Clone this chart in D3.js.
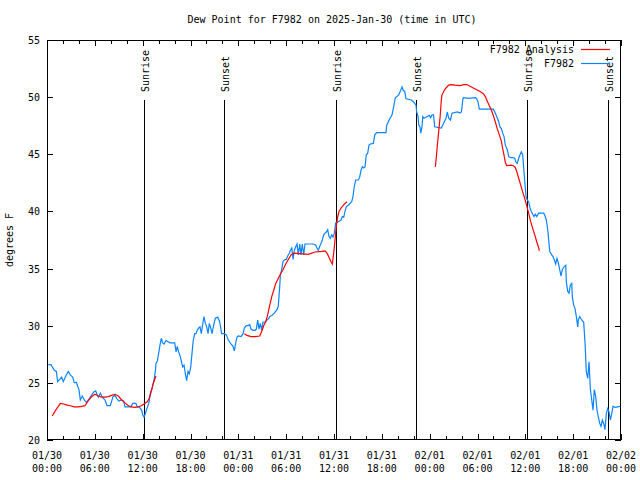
<!DOCTYPE html>
<html><head><meta charset="utf-8">
<script src="https://cdn.jsdelivr.net/npm/d3@7"></script>
<style>
body{margin:0;background:#fff;}
text{font-family:"DejaVu Sans Mono",monospace;font-size:10px;fill:#000;}
</style></head>
<body><svg id="c" width="640" height="480"></svg>
<script>
const startUtc = Date.UTC(2025,0,30,0,0);
const endUtc = Date.UTC(2025,1,2,0,0);
const titleText = "Dew Point for F7982 on 2025-Jan-30 (time in UTC)";
const yLabel = "degrees F";
const yTicks = [20,25,30,35,40,45,50,55];
const seriesNames = ["F7982 Analysis","F7982"];

// observations: hours since start, value (deg F)
const obsHours = [0.16,0.50,0.66,0.92,1.17,1.34,1.59,1.84,2.04,2.35,2.67,2.92,3.22,3.42,3.68,3.85,4.01,4.18,4.43,4.68,4.93,5.18,5.52,5.86,6.11,6.27,6.44,6.69,6.94,7.28,7.53,7.94,8.28,8.53,8.78,9.03,9.37,9.62,9.78,10.20,10.54,10.75,11.16,11.33,11.58,11.88,12.00,12.17,12.33,12.51,12.76,12.92,13.17,13.42,13.59,13.67,13.84,14.01,14.17,14.34,14.51,14.68,14.93,15.18,15.43,16.02,16.19,16.34,16.52,16.68,16.85,17.02,17.19,17.35,17.52,17.69,17.85,18.03,18.19,18.35,18.53,18.69,18.85,19.03,19.19,19.36,19.53,19.69,19.86,20.03,20.20,20.36,20.53,20.70,20.86,21.11,21.41,21.66,21.91,22.24,22.49,22.74,23.08,23.33,23.50,23.67,23.83,24.00,24.34,24.59,24.75,25.00,25.25,25.43,25.59,25.84,26.09,26.25,26.43,26.59,26.76,26.93,27.09,27.43,27.60,27.76,27.94,28.19,28.51,28.85,29.01,29.10,29.19,29.27,29.44,29.60,29.77,30.02,30.19,30.36,30.52,30.70,30.86,31.02,31.20,31.36,31.52,31.70,31.86,32.02,32.20,32.36,33.40,33.71,33.87,34.03,34.21,34.37,34.53,34.71,34.87,35.04,35.21,35.37,35.54,35.71,35.88,36.04,36.21,36.54,36.88,37.04,37.22,37.38,37.54,37.88,38.22,38.38,38.55,38.72,39.05,39.22,39.39,39.55,39.73,39.89,40.05,40.23,40.39,40.56,40.93,41.11,41.36,42.52,42.61,43.03,43.28,43.44,43.69,44.12,44.37,44.53,44.69,44.87,45.03,45.70,45.95,46.12,46.29,46.37,46.54,46.63,46.79,46.88,47.04,47.13,47.29,47.70,47.96,48.13,48.29,48.48,48.63,49.46,50.05,50.21,50.39,50.61,50.80,51.47,51.81,51.97,52.06,52.15,52.22,52.90,53.73,53.90,54.06,54.23,55.98,56.16,56.32,56.49,56.66,56.82,56.99,57.16,57.33,57.49,57.74,57.92,58.17,58.42,58.67,58.83,58.99,59.17,59.33,59.50,59.67,59.83,60.00,60.09,60.25,60.42,60.59,60.75,60.93,61.09,61.25,61.43,61.68,62.31,62.47,62.63,62.81,62.97,63.06,63.31,63.47,63.64,63.81,63.97,64.14,64.31,64.48,64.64,64.89,65.07,65.14,65.32,65.48,65.64,65.82,65.89,66.07,66.23,66.40,66.57,66.65,66.82,67.07,67.32,67.49,67.65,67.83,67.99,68.08,68.15,68.33,68.49,68.65,68.83,68.99,69.15,69.33,69.49,69.66,69.83,69.99,70.16,70.33,70.50,70.66,70.84,71.00,71.25,71.59,71.91];
const obsValues = [26.6,26.6,26.4,26.1,26.0,25.1,25.3,25.5,25.1,25.6,26.0,25.7,25.5,25.0,25.05,24.7,24.4,23.5,23.85,23.5,23.3,23.5,23.85,24.2,24.3,24.0,23.75,24.1,23.75,23.5,23.0,23.0,23.8,23.9,23.6,23.4,23.5,23.4,22.9,22.9,22.9,23.2,23.2,22.9,22.9,22.6,22.2,22.0,22.3,22.7,23.2,23.8,24.5,25.25,26.0,26.7,26.9,27.6,28.3,28.9,28.5,28.4,28.7,28.6,28.5,28.5,27.7,28.2,27.7,27.4,26.9,26.4,26.55,25.8,25.2,26.0,25.8,26.4,27.6,28.75,29.3,29.3,29.6,29.8,29.9,29.3,30.15,30.8,30.2,29.9,29.3,30.2,29.8,29.3,29.9,30.65,30.75,30.35,29.3,29.3,29.2,28.75,28.4,28.2,27.8,28.5,29.0,29.1,29.05,29.3,29.8,30.0,30.0,30.1,29.7,29.6,29.6,29.7,30.5,29.7,30.2,29.6,30.3,30.35,30.5,30.6,30.8,30.9,31.1,31.4,31.7,32.55,33.4,34.4,34.9,35.6,35.75,35.8,36.1,36.3,36.55,36.85,35.8,36.6,36.9,37.15,36.2,37.15,36.2,37.15,36.2,37.15,37.15,37.05,36.8,36.6,36.95,37.2,37.5,37.95,38.1,38.2,38.4,37.8,37.65,37.95,37.75,38.1,39.0,39.1,39.25,39.55,39.5,40.0,40.4,40.6,40.85,41.3,42.2,42.75,42.75,43.0,43.6,43.9,43.8,43.9,44.95,45.1,45.8,45.9,45.95,46.7,46.9,46.9,47.55,48.15,48.45,49.0,49.95,50.2,50.6,50.9,50.6,50.5,49.85,49.75,49.6,49.45,49.3,48.7,48.3,47.55,47.4,46.85,47.4,48.3,48.15,48.3,48.4,48.2,48.45,48.45,47.4,47.3,48.15,48.7,48.15,48.0,48.6,48.7,48.6,48.7,49.15,49.75,49.95,49.9,49.95,49.85,49.6,48.95,48.95,48.7,48.45,48.15,47.85,47.4,47.25,46.85,46.55,45.8,45.4,44.8,44.7,44.7,44.65,44.3,44.2,44.65,44.95,45.2,44.95,43.5,42.0,41.3,41.0,40.85,40.3,40.0,39.75,39.55,39.75,39.55,39.85,39.85,39.6,39.25,38.4,37.2,36.5,36.2,36.05,35.75,35.4,35.9,35.5,34.9,34.35,34.9,35.2,35.3,33.85,33.0,32.85,33.55,33.7,32.55,31.8,31.5,30.8,29.9,30.5,30.8,30.5,30.3,28.5,25.95,25.4,26.85,25.55,24.5,23.5,22.6,24.4,23.8,22.6,22.05,21.45,21.2,21.75,21.45,20.9,22.3,22.75,22.45,21.75,22.3,22.95,22.85,22.9,22.95];

// analysis: hours since start, value (null = gap)
const anaHours = [0.66,1.00,1.42,1.67,2.09,2.51,2.92,3.42,3.93,4.35,4.77,5.18,5.61,6.02,6.44,6.86,7.28,7.69,8.12,8.53,8.94,9.37,9.78,10.20,10.62,11.00,11.41,11.83,12.26,12.58,12.83,13.01,13.17,13.33,13.51,13.67,
  20.0,
  24.75,25.09,25.59,26.09,26.68,26.93,27.18,27.43,27.68,27.94,28.19,28.44,28.69,28.94,29.27,29.60,29.94,30.27,30.61,30.95,31.74,32.78,33.62,34.46,34.87,35.12,35.37,35.63,35.79,35.96,36.13,36.29,36.47,36.63,36.88,37.13,37.38,37.63,
  43.0,
  48.71,48.80,48.88,48.96,49.05,49.13,49.21,49.30,49.39,49.46,49.55,49.80,50.05,50.39,50.68,51.18,51.81,52.22,52.65,53.06,53.47,53.90,54.32,54.73,54.98,55.23,55.48,55.73,55.98,56.23,56.49,56.74,56.99,57.16,57.33,57.49,57.66,58.24,58.49,58.74,58.92,59.17,59.42,59.67,59.92,60.17,60.42,60.67,60.93,61.18,61.43,61.68,61.75];
const anaValues = [22.1,22.5,22.95,23.2,23.15,23.05,23.0,22.9,22.9,22.95,23.0,23.45,23.8,24.0,23.85,23.75,23.75,23.8,23.9,24.0,23.85,23.5,23.25,23.0,22.9,22.85,22.9,23.0,23.2,23.35,23.65,24.2,24.5,24.95,25.3,25.6,
  null,
  29.3,29.15,29.05,29.05,29.1,29.5,30.0,30.35,30.95,31.8,32.55,33.1,33.7,34.05,34.5,34.9,35.4,35.8,36.2,36.35,36.3,36.25,36.45,36.5,36.55,36.35,36.0,35.6,35.4,36.35,37.5,38.7,39.55,40.0,40.3,40.5,40.7,40.85,
  null,
  43.9,44.5,45.1,45.8,46.4,46.95,47.55,48.2,49.0,49.75,50.2,50.55,50.8,51.05,51.1,51.05,51.0,51.1,51.1,50.95,50.8,50.65,50.5,50.3,50.05,49.65,49.25,48.9,48.4,47.85,47.2,46.7,46.15,45.5,44.9,44.3,44.0,44.05,44.0,43.85,43.5,42.9,42.3,41.7,41.15,40.5,39.85,39.1,38.5,37.95,37.35,36.8,36.55];

// sunrise / sunset (hours since start)
const eventHours = [12.17,22.20,36.25,46.29,60.21,70.37];
const eventLabels = ["Sunrise","Sunset","Sunrise","Sunset","Sunrise","Sunset"];

const L=47,R=621,T=40,B=440;
const svg = d3.select("#c");
const toDate = h => new Date(startUtc + h*3600e3);
const x = d3.scaleUtc().domain([new Date(startUtc), new Date(endUtc)]).range([L,R]);
const y = d3.scaleLinear().domain([20,55]).range([B,T]);

const obs = obsHours.map((h,i)=>({t:toDate(h),v:obsValues[i]}));
const ana = anaHours.map((h,i)=>({t:toDate(h),v:anaValues[i]}));

// title
svg.append("text").attr("x",332).attr("y",23).attr("text-anchor","middle").text(titleText);
// y label
svg.append("text").attr("transform","translate(13,240) rotate(-90)").attr("text-anchor","middle").text(yLabel);

// ticks
const g = svg.append("g").attr("shape-rendering","crispEdges");
yTicks.forEach(v=>{
  const yy = Math.round(y(v))+0.5;
  g.append("line").attr("x1",L).attr("x2",L+6).attr("y1",yy).attr("y2",yy).attr("stroke","#000");
  g.append("line").attr("x1",R-6).attr("x2",R).attr("y1",yy).attr("y2",yy).attr("stroke","#000");
  svg.append("text").attr("x",40).attr("y",Math.round(y(v))+4).attr("text-anchor","end").text(v);
});
const minorTicks = d3.utcHour.every(2).range(new Date(startUtc), new Date(endUtc+1));
minorTicks.forEach(t=>{
  const xx = Math.round(x(t))+0.5;
  const major = t.getUTCHours()%6===0;
  const len = major?6:4;
  g.append("line").attr("x1",xx).attr("x2",xx).attr("y1",B).attr("y2",B-len).attr("stroke","#000");
  g.append("line").attr("x1",xx).attr("x2",xx).attr("y1",T).attr("y2",T+len).attr("stroke","#000");
});
const majorTicks = d3.utcHour.every(6).range(new Date(startUtc), new Date(endUtc+1));
const fmtD = d3.utcFormat("%m/%d"), fmtT = d3.utcFormat("%H:%M");
majorTicks.forEach(t=>{
  const xx = x(t);
  const tx = svg.append("text").attr("text-anchor","middle");
  tx.append("tspan").attr("x",xx).attr("y",459).text(fmtD(t));
  tx.append("tspan").attr("x",xx).attr("y",472).text(fmtT(t));
});

// sunrise/sunset lines
eventHours.forEach((h,i)=>{
  const xx = Math.round(x(toDate(h)))+0.5;
  g.append("line").attr("x1",xx).attr("x2",xx).attr("y1",B).attr("y2",y(49.75)).attr("stroke","#000");
  svg.append("text").attr("transform",`translate(${xx+4},92) rotate(-90)`).attr("text-anchor","start").text(eventLabels[i]);
});

// border
g.append("rect").attr("x",L+0.5).attr("y",T+0.5).attr("width",R-L-1).attr("height",B-T-1).attr("fill","none").attr("stroke","#000");

const line = d3.line().defined(d=>d.v!=null).x(d=>x(d.t)).y(d=>y(d.v));
svg.append("path").datum(obs).attr("d",line).attr("fill","none").attr("stroke","#0a84ff").attr("stroke-width",1.2);
svg.append("path").datum(ana).attr("d",line).attr("fill","none").attr("stroke","#ff0000").attr("stroke-width",1.2);

// legend
const legColors = ["#ff0000","#0a84ff"];
seriesNames.forEach((n,i)=>{
  const ly = 49 + i*14;
  svg.append("text").attr("x",574).attr("y",ly+4).attr("text-anchor","end").text(n);
  svg.append("line").attr("x1",581).attr("x2",610).attr("y1",ly+0.5).attr("y2",ly+0.5).attr("stroke",legColors[i]).attr("stroke-width",1.2);
});
</script></body></html>
